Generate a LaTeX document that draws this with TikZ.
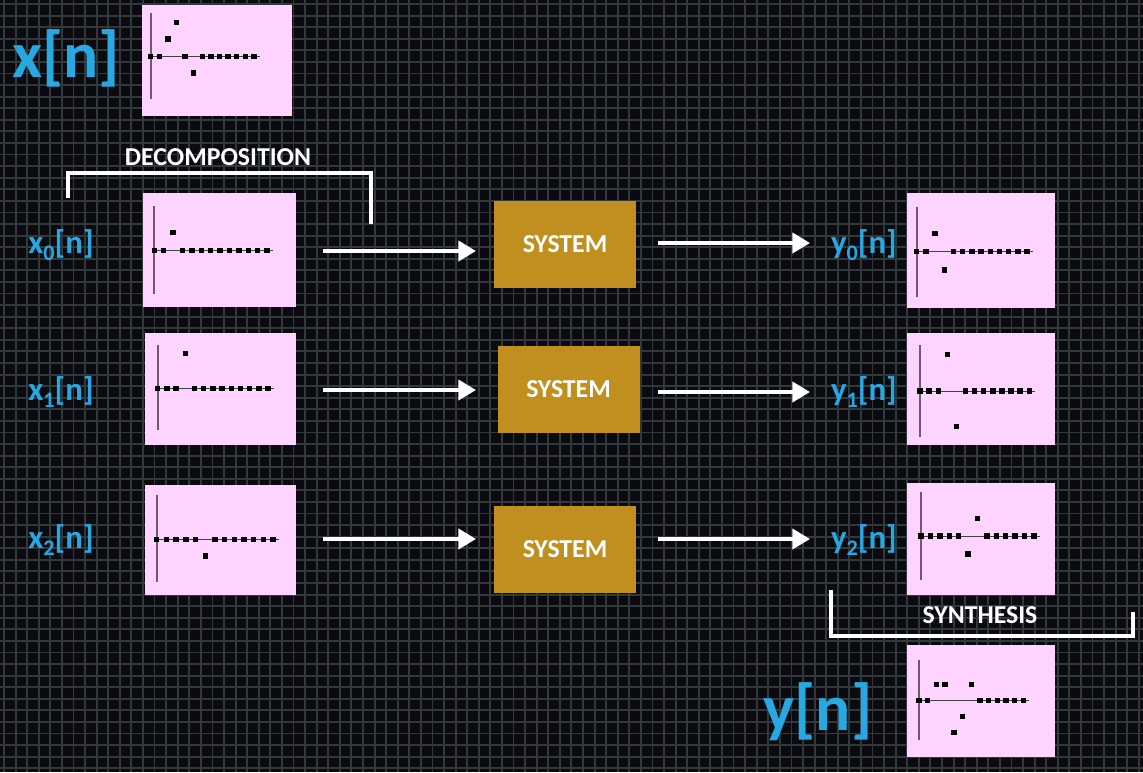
\documentclass[tikz,border=0pt]{standalone}
\usepackage{fontspec}
\setmainfont{Carlito}
\usetikzlibrary{arrows.meta}

\definecolor{bgdark}{RGB}{10,10,16}
\definecolor{gridgray}{RGB}{50,57,59}
\definecolor{sigpink}{RGB}{255,211,255}
\definecolor{sysgold}{RGB}{192,143,32}
\definecolor{labblue}{RGB}{40,168,226}
\definecolor{axisgray}{RGB}{110,90,110}

\tikzstyle{sysbox}=[rectangle, fill=sysgold, text=white, font=\fontsize{22}{26}\selectfont\bfseries, minimum width=4.26cm, minimum height=2.61cm, inner sep=0pt]
\tikzstyle{siglab}=[text=labblue, font=\fontsize{28}{32}\selectfont\bfseries, inner sep=0pt]
\tikzstyle{biglab}=[text=labblue, font=\fontsize{56}{64}\selectfont\bfseries, inner sep=0pt]
\tikzstyle{stagelab}=[text=white, font=\fontsize{22}{26}\selectfont\bfseries, inner sep=0pt]
\tikzstyle{arr}=[white, line width=3.4pt, -{Triangle[length=15pt,width=17pt]}]
\tikzstyle{brack}=[white, line width=4.2pt]
\tikzstyle{sigbox}=[fill=sigpink]
\tikzstyle{vaxis}=[axisgray, line width=1.5pt]
\tikzstyle{haxis}=[black!75, line width=0.8pt]
\tikzstyle{gridline}=[gridgray, line width=1.6pt]

% axis x, top, axis y, bottom, spacing, values (px up)
\newcommand{\sigplot}[6]{%
  \draw[vaxis] (#1,#2) -- (#1,#4);
  \draw[haxis] (#1,#3) -- ({#1+12*#5+6},#3);
  \foreach \v [count=\i from 0] in {#6}
    \fill[black] ({#1+\i*#5-2.7},{#3-(\v)-2.7}) rectangle ++(5.4,5.4);
}
\newcommand{\subl}[2]{#1\raisebox{-0.4ex}{\fontsize{19}{20}\selectfont #2}[n]}

\begin{document}
\begin{tikzpicture}[x=0.03cm, y=-0.03cm]

\useasboundingbox (0,0) rectangle (1143,772);
\fill[bgdark] (0,0) rectangle (1143,772);
\foreach \i in {0,...,98}
  \draw[gridline] ({\i*11.58+4},0) -- ({\i*11.58+4},772);
\foreach \j in {0,...,66}
  \draw[gridline] (0,{\j*11.58+4}) -- (1143,{\j*11.58+4});

% input signal
\node[biglab] (xlab) at (66,58) {x[n]};
\fill[sigbox] (142,5) rectangle (292,116);
\sigplot{150.7}{13}{56.7}{99}{8.6}{0,0,17.7,34,0,-16.3,0,0,0,0,0,0,0}

\node[stagelab] (dec) at (218,157) {DECOMPOSITION};
\draw[brack] (68,198) -- (68,173) -- (371,173) -- (371,224);

% decomposed inputs
\node[siglab] (xlab0) at (61,245) {\subl{x}{0}};
\node[siglab] (xlab1) at (61,392) {\subl{x}{1}};
\node[siglab] (xlab2) at (61,540) {\subl{x}{2}};

\fill[sigbox] (143,193) rectangle (296,307);
\sigplot{154.3}{206}{250.3}{294}{9.4}{0,0,18,0,0,0,0,0,0,0,0,0,0}
\fill[sigbox] (145,333) rectangle (296,445);
\sigplot{157.7}{345}{388.3}{430}{9.2}{0,0,0,35,0,0,0,0,0,0,0,0,0}
\fill[sigbox] (145,485) rectangle (296,595);
\sigplot{156.7}{495}{539.3}{581.7}{9.7}{0,0,0,0,0,-16.7,0,0,0,0,0,0,0}

% systems
\node[sysbox] (sys0) at (565,244.5) {SYSTEM};
\node[sysbox] (sys1) at (568.5,389.5) {SYSTEM};
\node[sysbox] (sys2) at (565,549.5) {SYSTEM};

\coordinate (in0s) at (323,251);
\coordinate (in0e) at (476,251);
\coordinate (in1s) at (323,390);
\coordinate (in1e) at (476,390);
\coordinate (in2s) at (323,539);
\coordinate (in2e) at (476,539);
\coordinate (out0s) at (658,243);
\coordinate (out0e) at (810,243);
\coordinate (out1s) at (658,392);
\coordinate (out1e) at (810,392);
\coordinate (out2s) at (658,539);
\coordinate (out2e) at (810,539);

\draw[arr] (in0s) -- (in0e);
\draw[arr] (in1s) -- (in1e);
\draw[arr] (in2s) -- (in2e);
\draw[arr] (out0s) -- (out0e);
\draw[arr] (out1s) -- (out1e);
\draw[arr] (out2s) -- (out2e);

% outputs
\node[siglab] (ylab0) at (864,245) {\subl{y}{0}};
\node[siglab] (ylab1) at (864,392) {\subl{y}{1}};
\node[siglab] (ylab2) at (864,540) {\subl{y}{2}};

\fill[sigbox] (907,193) rectangle (1055,308);
\sigplot{916.7}{206.7}{251.7}{296.7}{9.2}{0,0,18.4,-18.3,0,0,0,0,0,0,0,0,0}
\fill[sigbox] (907,333) rectangle (1055,445);
\sigplot{920}{345}{391}{436.7}{9.1}{0,0,0,36.7,-35.7,0,0,0,0,0,0,0,0}
\fill[sigbox] (907,483) rectangle (1055,595);
\sigplot{921}{491.7}{536}{580}{9.4}{0,0,0,0,0,-18,17.7,0,0,0,0,0,0}

\node[stagelab] (syn) at (980,615) {SYNTHESIS};
\draw[brack] (831,590) -- (831,636) -- (1133,636) -- (1133,612);

% output signal
\node[biglab] (ylab) at (818,712) {y[n]};
\fill[sigbox] (907,645) rectangle (1055,757);
\sigplot{919}{660}{700.7}{740}{8.7}{0,0,16.4,16.4,-32,-16,16.4,0,0,0,0,0,0}

\end{tikzpicture}
\end{document}
